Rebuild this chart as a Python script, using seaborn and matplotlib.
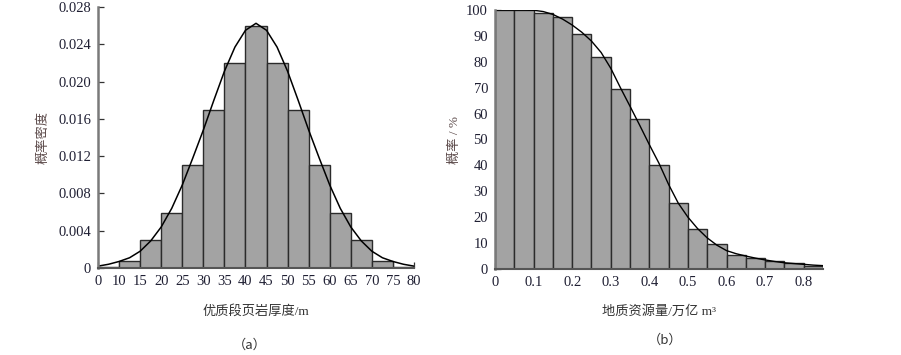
import numpy as np
import pandas as pd
import matplotlib
matplotlib.use("Agg")
import matplotlib.pyplot as plt
import seaborn as sns

# ---------------- data ----------------
# (a) thickness histogram (equal-width bins, labelled as on the original axis)
thick_tick_labels = ["0", "10", "15", "20", "25", "30", "35", "40", "45",
                     "50", "55", "60", "65", "70", "75", "80"]
thick_density = [0.0001, 0.0007, 0.003, 0.0059, 0.011, 0.017, 0.022, 0.026,
                 0.022, 0.017, 0.011, 0.0059, 0.003, 0.0007, 0.0001]
# fitted curve read at every half bin
thick_curve = [0.0002, 0.0004, 0.0007, 0.0011, 0.0018, 0.0029, 0.0044, 0.0064,
               0.0089, 0.0118, 0.0148, 0.0180, 0.0211, 0.0237, 0.0255, 0.02625,
               0.0255, 0.0237, 0.0211, 0.0180, 0.0148, 0.0118, 0.0089, 0.0064,
               0.0044, 0.0029, 0.0018, 0.0011, 0.0007, 0.0004, 0.0002]
dens_ticks = [0, 0.004, 0.008, 0.012, 0.016, 0.020, 0.024, 0.028]
dens_tick_labels = ["0", "0.004", "0.008", "0.012", "0.016", "0.020", "0.024", "0.028"]

# (b) resource exceedance probability
res_bin_edges = [0, 0.05, 0.1, 0.15, 0.2, 0.25, 0.3, 0.35, 0.4, 0.45, 0.5,
                 0.55, 0.6, 0.65, 0.7, 0.75, 0.8, 0.85]
res_prob = [100, 100, 98.7, 97.4, 90.7, 81.7, 69.5, 57.9, 40.1, 25.4, 15.4,
            9.5, 5.4, 4.1, 3.1, 2.2, 1.3]
res_curve_x = [0, 0.025, 0.05, 0.075, 0.1, 0.125, 0.15, 0.175, 0.2, 0.225,
               0.25, 0.275, 0.3, 0.325, 0.35, 0.375, 0.4, 0.425, 0.45, 0.475,
               0.5, 0.525, 0.55, 0.575, 0.6, 0.625, 0.65, 0.675, 0.7, 0.725,
               0.75, 0.775, 0.8, 0.825, 0.85]
res_curve_y = [100, 100, 100, 100, 99.9, 99.4, 98.3, 96.5, 94.2, 91.4,
               88.0, 83.6, 77.5, 70.0, 62.8, 55.5, 48.0, 40.8, 32.6, 25.4,
               20.0, 15.6, 12.0, 9.2, 7.1, 5.9, 5.0, 4.2, 3.5, 2.9,
               2.4, 2.1, 1.8, 1.5, 1.3]
res_xticks = [0, 0.1, 0.2, 0.3, 0.4, 0.5, 0.6, 0.7, 0.8]
res_xtick_labels = ["0", "0.1", "0.2", "0.3", "0.4", "0.5", "0.6", "0.7", "0.8"]
prob_ticks = [0, 10, 20, 30, 40, 50, 60, 70, 80, 90, 100]

# ---------------- style ----------------
sns.set_style("ticks")
plt.rcParams["font.family"] = ["Liberation Serif", "Noto Sans CJK SC", "DejaVu Sans"]
mixed = ["Liberation Serif", "Noto Sans CJK SC", "DejaVu Sans"]
cjk = ["Noto Sans CJK SC", "Liberation Serif", "DejaVu Sans"]

BAR = "#a3a3a3"
EDGE = "#2b2b2b"
TICKC = "#1f1f33"
SPINE = "#7a7a7a"
YLABC = "#5a4848"

fig = plt.figure(figsize=(9.01, 3.55), dpi=100)
W, H = 901, 355
axA = fig.add_axes([98 / W, 1 - 268 / H, (414 - 98) / W, (268 - 7) / H])
axB = fig.add_axes([495 / W, 1 - 269 / H, (823 - 495) / W, (269 - 10) / H])

# ---- (a) ----
nA = len(thick_density)
dfA = pd.DataFrame({"pos": np.arange(nA) + 0.5, "dens": thick_density})
sns.barplot(data=dfA, x="pos", y="dens", native_scale=True, width=1.0,
            color=BAR, saturation=1, edgecolor=EDGE, linewidth=1.0,
            errorbar=None, ax=axA)
dfAc = pd.DataFrame({"pos": np.arange(len(thick_curve)) * 0.5, "dens": thick_curve})
sns.lineplot(data=dfAc, x="pos", y="dens", color="black", linewidth=1.1, ax=axA)
axA.set_xlim(0, nA)
axA.set_ylim(0, 0.028)
axA.set_xticks(np.arange(len(thick_tick_labels)))
axA.set_xticklabels(thick_tick_labels)
axA.set_yticks(dens_ticks)
axA.set_yticklabels(dens_tick_labels)
axA.set_xlabel("优质段页岩厚度/m", family=mixed, fontsize=9.5, color="#333333", labelpad=12)
axA.set_ylabel("概率密度", family=mixed, fontsize=9.5, color=YLABC, labelpad=6)

# ---- (b) ----
centersB = [(a + b) / 2 for a, b in zip(res_bin_edges[:-1], res_bin_edges[1:])]
dfB = pd.DataFrame({"res": centersB, "prob": res_prob})
sns.barplot(data=dfB, x="res", y="prob", native_scale=True, width=1.0,
            color=BAR, saturation=1, edgecolor=EDGE, linewidth=1.0,
            errorbar=None, ax=axB)
dfBc = pd.DataFrame({"res": res_curve_x, "prob": res_curve_y})
sns.lineplot(data=dfBc, x="res", y="prob", color="black", linewidth=1.0, ax=axB)
axB.set_xlim(0, 0.85)
axB.set_ylim(0, 100)
axB.set_xticks(res_xticks)
axB.set_xticklabels(res_xtick_labels)
axB.set_yticks(prob_ticks)
axB.set_xlabel("地质资源量/万亿 m³", family=mixed, fontsize=9.5, color="#333333", labelpad=12)
axB.set_ylabel("概率 / %", family=mixed, fontsize=9.5, color=YLABC, labelpad=4)

for ax in (axA, axB):
    sns.despine(ax=ax)
    ax.spines["left"].set_color(SPINE)
    ax.spines["left"].set_linewidth(1.8)
    ax.spines["bottom"].set_color("#555555")
    ax.spines["bottom"].set_linewidth(1.5)
    ax.tick_params(direction="in", length=4, width=0.9, color="#333333",
                   labelsize=10.5, labelcolor=TICKC, pad=5)
    ax.grid(False)

fig.text(250 / W, 1 - 345 / H, "（a）", family=cjk, fontsize=9.5,
         color="#333333", ha="center", va="center")
fig.text(665 / W, 1 - 340 / H, "（b）", family=cjk, fontsize=9.5,
         color="#333333", ha="center", va="center")

fig.savefig("out.png", dpi=100)
